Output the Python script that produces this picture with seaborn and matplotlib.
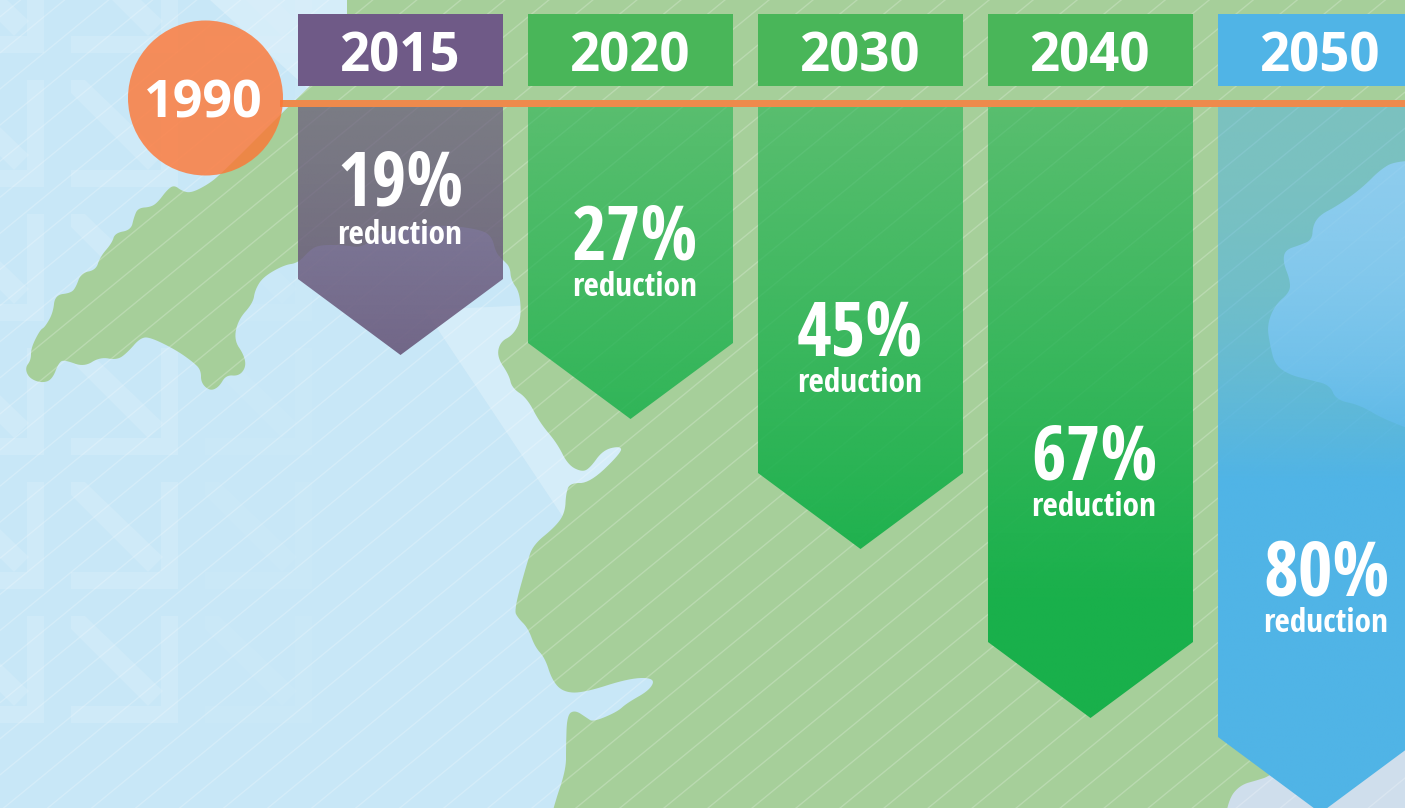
# emissions reduction targets over the map, 1990 baseline

import numpy as np
import matplotlib
matplotlib.use("Agg")
import matplotlib.pyplot as plt
import seaborn as sns
from matplotlib.colors import to_rgb
from matplotlib.patches import Circle, Polygon, Rectangle

# ------- data -------

base_year = "1990"
years = ["2015", "2020", "2030", "2040", "2050"]
reductions = [19, 27, 45, 67, 80]

# depth of each arrow tip below the orange line
tip_depth = [248, 312, 442, 611, 706]

# coastline of the land, pixels (repeated points keep the off-picture corners square)
coast_x = [347, 347, 347, 347, 347, 310, 282, 220, 207, 191, 182, 174, 167, 158, 151, 138, 134, 131,
           115, 112, 100, 96, 81, 76, 71, 55, 53, 45, 40, 31, 31, 25, 29, 41, 52, 59, 65, 84, 100,
           117, 127, 141, 152, 176, 193, 201, 201, 210, 219, 226, 239, 246, 244, 234, 238, 253, 255,
           263, 284, 298, 310, 319, 344, 362, 379, 406, 448, 482, 492, 496, 503, 510, 511, 520,
           521, 513, 500, 497, 509, 512, 527, 540, 557, 568, 582, 590, 603, 620, 622, 590, 570,
           566, 565, 555, 533, 527, 514, 518, 528, 535, 545, 552, 563, 583, 630, 655, 650, 627,
           617, 593, 587, 575, 567, 566, 566, 553, 530, 530, 530, 1600, 1600, 1600, 1600, 1600, 1600]
coast_y = [-100, -100, -100, 14, 50, 86, 113, 175, 185, 193, 191, 185, 190, 202, 207, 208, 217, 230,
           233, 243, 257, 270, 273, 287, 293, 295, 313, 327, 330, 348, 360, 368, 378, 383, 380, 362,
           360, 367, 357, 360, 353, 337, 338, 350, 362, 370, 383, 391, 387, 375, 376, 367, 355, 340,
           320, 303, 290, 277, 265, 263, 250, 245, 245, 248, 233, 227, 225, 230, 237, 253, 260,
           267, 280, 293, 320, 335, 342, 357, 375, 388, 398, 423, 443, 465, 472, 468, 450, 446,
           452, 483, 483, 493, 513, 527, 545, 563, 610, 618, 628, 647, 658, 680, 692, 693, 678,
           678, 690, 703, 712, 722, 718, 710, 715, 747, 770, 808, 900, 900, 900, 900, 900, 900, -100, -100, -100]

# sea on the far right, seen through the 2050 arrow, pixels
east_sea_x = [1440, 1395, 1380, 1365, 1350, 1335, 1320, 1313, 1312, 1300, 1285, 1283, 1290, 1290,
              1275, 1267, 1270, 1275, 1290, 1310, 1330, 1336, 1360, 1385, 1440]
east_sea_y = [160, 161, 170, 185, 197, 207, 215, 225, 240, 245, 250, 262, 280, 292, 305, 325, 345,
              365, 375, 380, 385, 400, 405, 420, 440]

# sea in the bottom right corner, pixels
south_sea_x = [1222, 1228, 1240, 1258, 1270, 1320, 1440, 1440]
south_sea_y = [840, 800, 785, 780, 776, 740, 700, 840]

# ------- styles -------

sea_color = "#c8e7f7"
land_color = "#a6cf9a"
east_sea_color = "#cde6f6"
south_sea_color = "#cfdeec"
line_color = "#ee8a4c"
bar_colors = ["#68587b", "#19b04b", "#19b04b", "#19b04b", "#50b4e6"]
head_colors = ["#6f5a87", "#49b659", "#49b659", "#49b659", "#50b4e6"]
top_alpha = [0.70, 0.55, 0.55, 0.55, 0.50]
solid_depth = [372, 490, 490, 490, 370]   # gradient is opaque from here down
fade_power = [1, 1, 1, 1, 2]
value_base = [99, 152, 248, 372, 488]     # baseline of the percentage text
word_base = [137, 189, 285, 409, 525]     # baseline of "reduction"
text_x = [400, 635, 860, 1094, 1326]
W, H = 1405, 808
LINE_Y = 107

condensed = "Open Sans Condensed"
sns.set_theme(style="white")


def smooth(xs, ys, rounds=3):
    # chaikin corner cutting on a closed outline
    pts = np.column_stack([xs, ys]).astype(float)
    for _ in range(rounds):
        nxt = np.roll(pts, -1, axis=0)
        pts = np.column_stack([0.75 * pts + 0.25 * nxt, 0.25 * pts + 0.75 * nxt]).reshape(-1, 2)
    return pts


fig = plt.figure(figsize=(W / 100, H / 100), dpi=100)

# ------- background map -------

bg = fig.add_axes([0, 0, 1, 1])
bg.set_xlim(0, W)
bg.set_ylim(H, 0)
bg.axis("off")
bg.add_patch(Rectangle((0, 0), W, H, color=sea_color, lw=0, zorder=0))

# pale tile pattern in the sea
for col, fade in zip([-63, 71, 205], [0.13, 0.13, 0.05]):
    for row in range(-54, 700, 134):
        tile = [
            [(col + 90, row), (col + 107, row), (col + 107, row + 90), (col + 90, row + 90)],
            [(col, row + 90), (col + 107, row + 90), (col + 107, row + 107), (col, row + 107)],
            [(col, row), (col + 14, row), (col + 92, row + 75), (col + 77, row + 90), (col, row + 13)],
        ]
        for shape in tile:
            bg.add_patch(Polygon(shape, color="white", alpha=fade, lw=0, zorder=1))

# lighter wide bands
bg.add_patch(Polygon([(425, 310), (565, 520), (640, 520), (640, 300)], color="white", alpha=0.25, lw=0, zorder=1))
bg.add_patch(Polygon([(210, 0), (360, 0), (360, 120), (320, 100)], color="white", alpha=0.25, lw=0, zorder=1))

bg.add_patch(Polygon(smooth(coast_x, coast_y), color=land_color, lw=0, zorder=2))
bg.add_patch(Polygon(smooth(east_sea_x, east_sea_y), color=east_sea_color, lw=0, zorder=3))
bg.add_patch(Polygon(smooth(south_sea_x, south_sea_y), color=south_sea_color, lw=0, zorder=3))

# thin diagonal lines over everything
xs = np.array([0, W])
for c in np.arange(450 - 36.1 * 13, H + 0.82 * W, 36.1):
    bg.plot(xs, c - 0.82 * xs, color="white", alpha=0.22, lw=1.0, zorder=4)

bg.set_xlim(0, W)
bg.set_ylim(H, 0)

# orange timeline and 1990 circle
bg.add_patch(Rectangle((280, 99.5), W - 280, 7.5, color=line_color, lw=0, zorder=5))
bg.add_patch(Circle((205.5, 98), 77.5, color="#ff7533", alpha=0.8, lw=0, zorder=6))
bg.text(203.5, 117, base_year, color="white", fontsize=37.5, fontweight="bold", family="Open Sans",
        ha="center", va="baseline", zorder=7)

# ------- arrows -------

ax = fig.add_axes([0, 0, 1, 1])
ax.patch.set_alpha(0)

sns.barplot(x=years, y=tip_depth, color=bar_colors[0], width=205 / 230, ax=ax)

# categories sit 230 px apart, first one centred on x = 400.5
x_left = -400.5 / 230
x_right = (W - 400.5) / 230
y_bottom = H - LINE_Y
y_top = -LINE_Y

for i, bar in enumerate(ax.patches):
    left = bar.get_x()
    right = left + bar.get_width()
    tip = bar.get_height()
    mid = left + bar.get_width() / 2
    bar.set_facecolor("none")
    bar.set_edgecolor("none")

    outline = Polygon([(left, 0), (right, 0), (right, tip - 76), (mid, tip), (left, tip - 76)],
                      transform=ax.transData, fc="none", ec="none")
    ax.add_patch(outline)

    # colour stays the same, transparency fades out going down
    rows = 256
    depth = np.linspace(0, 740, rows)
    img = np.ones((rows, 1, 4))
    img[:, :, :3] = to_rgb(bar_colors[i])
    ramp = np.clip(depth / solid_depth[i], 0, 1) ** fade_power[i]
    img[:, 0, 3] = top_alpha[i] + (1 - top_alpha[i]) * ramp
    im = ax.imshow(img, extent=(left, right, 740, 0), aspect="auto", interpolation="bilinear", zorder=3)
    im.set_clip_path(outline)

    # year header above the line
    ax.add_patch(Rectangle((left, -93), right - left, 72, color=head_colors[i], lw=0, zorder=3))
    ax.text(mid, -36, years[i], color="white", fontsize=38, fontweight="bold", family="Open Sans",
            ha="center", va="baseline", zorder=5)

    px_to_cat = (text_x[i] - 400.5) / 230
    ax.text(px_to_cat, value_base[i], f"{reductions[i]}%", color="white", fontsize=54, fontweight="bold",
            family=condensed, ha="center", va="baseline", zorder=5)
    ax.text(px_to_cat, word_base[i], "reduction", color="white", fontsize=24, fontweight="bold",
            family=condensed, ha="center", va="baseline", zorder=5)

ax.set_xlim(x_left, x_right)
ax.set_ylim(y_bottom, y_top)
ax.axis("off")

plt.savefig("out.png", dpi=100)
